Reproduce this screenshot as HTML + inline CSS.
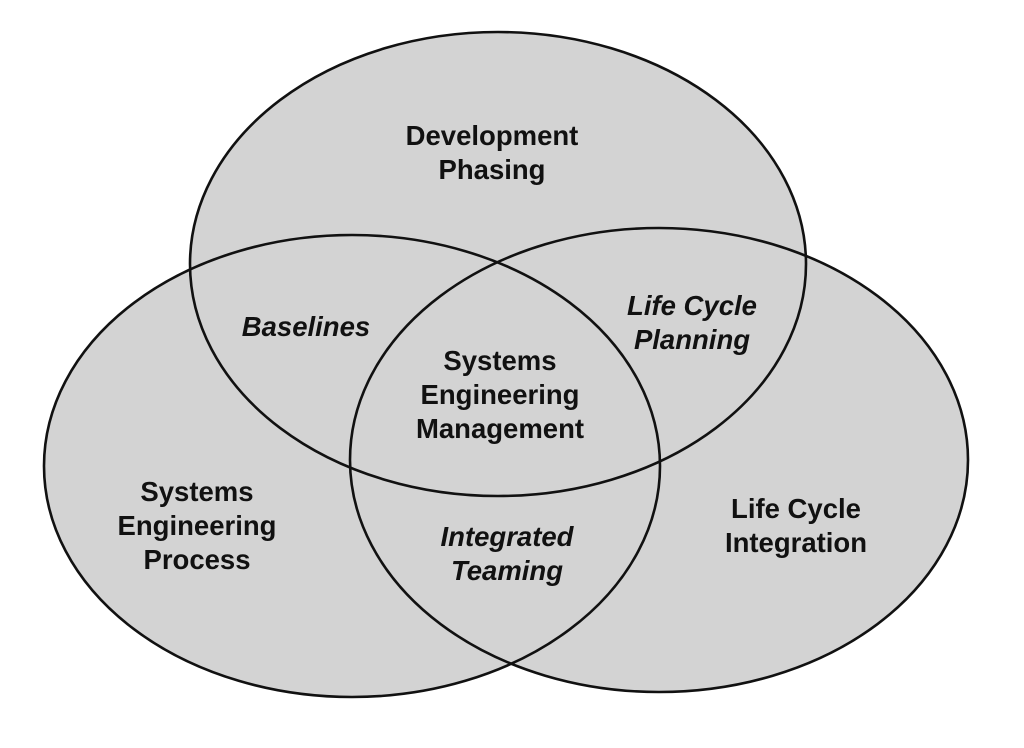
<!DOCTYPE html>
<html><head><meta charset="utf-8"><style>html,body{margin:0;padding:0;background:#fff}svg{display:block}
text{font-family:"Liberation Sans",Arial,sans-serif;}</style></head>
<body>
<svg width="1024" height="748" viewBox="0 0 1024 748" xmlns="http://www.w3.org/2000/svg">
<g fill="#d3d3d3">
<ellipse cx="498" cy="264" rx="308" ry="232"/>
<ellipse cx="352" cy="466" rx="308" ry="231"/>
<ellipse cx="659" cy="460" rx="309" ry="232"/>
</g>
<g fill="none" stroke="#111" stroke-width="2.6">
<ellipse cx="498" cy="264" rx="308" ry="232"/>
<ellipse cx="352" cy="466" rx="308" ry="231"/>
<ellipse cx="659" cy="460" rx="309" ry="232"/>
</g>
<g font-weight="bold" font-size="27.5" fill="#111" text-anchor="middle">
<text x="492" y="145">Development</text>
<text x="492" y="179">Phasing</text>
<text x="500" y="370">Systems</text>
<text x="500" y="404">Engineering</text>
<text x="500" y="438">Management</text>
<text x="197" y="501">Systems</text>
<text x="197" y="535">Engineering</text>
<text x="197" y="569">Process</text>
<text x="796" y="518">Life Cycle</text>
<text x="796" y="552">Integration</text>
<g font-style="italic">
<text x="306" y="336">Baselines</text>
<text x="692" y="315">Life Cycle</text>
<text x="692" y="349">Planning</text>
<text x="507" y="546">Integrated</text>
<text x="507" y="580">Teaming</text>
</g>
</g>
</svg>
</body></html>
